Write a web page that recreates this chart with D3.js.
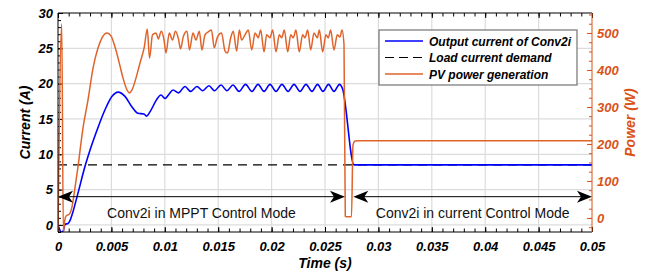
<!DOCTYPE html>
<html>
<head>
<meta charset="utf-8">
<script src="https://cdn.jsdelivr.net/npm/d3@7"></script>
<style>
  body { margin: 0; background: #fff; }
  text { font-family: "Liberation Sans", Arial, sans-serif; }
</style>
</head>
<body>
<div id="chart"></div>
<script>
// tick labels
const timeTicks = [0, 0.005, 0.01, 0.015, 0.02, 0.025, 0.03, 0.035, 0.04, 0.045, 0.05];
const currentTicks = [0, 5, 10, 15, 20, 25, 30];
const powerTicks = [0, 100, 200, 300, 400, 500];

// output current of Conv2i (A), time in ms
const currentTimeMs = [0, 0.14, 0.28, 0.47, 0.66, 0.94, 1.12, 1.31, 1.87, 2.53,
  3.00, 3.65, 4.40, 5.06, 5.62, 6.27, 6.93, 7.49, 8.05, 8.29,
  8.61, 9.22, 9.64, 10.02, 10.39, 10.77, 11.28, 11.89, 12.41, 13.01,
  13.53, 14.14, 14.65, 15.26, 15.82, 16.39, 16.95, 17.56, 18.16, 18.73,
  19.29, 19.85, 20.41, 20.97, 21.54, 22.10, 22.66, 23.22, 23.78, 24.30,
  24.81, 25.33, 25.84, 26.36, 26.64, 27.72, 50];
const currentValues = [0, -0.6, -1.0, -0.9, 0.1, 0.2, 0.6, 1.4, 4.5, 8.3,
  10.6, 13.4, 16.3, 18.2, 18.8, 18.2, 16.7, 15.8, 15.7, 15.4,
  16.0, 17.7, 18.4, 17.9, 18.5, 19.1, 18.7, 19.6, 18.9, 19.6,
  19.0, 19.7, 19.0, 19.8, 19.0, 19.8, 18.9, 19.9, 18.9, 19.9,
  18.9, 19.9, 18.9, 19.9, 18.9, 19.9, 18.9, 19.9, 18.9, 19.9,
  18.9, 19.9, 18.9, 19.9, 19.3, 8.5, 8.5];

// load current demand (A)
const loadDemand = 8.5;

// PV power generation (W), time in ms
const powerTimeMs = [0, 0.35, 0.50, 0.61, 0.75, 1.08, 1.31, 1.59, 1.87, 2.34,
  2.81, 3.28, 3.75, 4.12, 4.59, 4.96, 5.34, 5.71, 6.09, 6.46,
  6.69, 6.93, 7.30, 7.68, 8.08, 8.36, 8.57, 8.85, 9.18, 9.39,
  9.67, 9.93, 10.11, 10.42, 10.72, 11.00, 11.28, 11.47, 11.75, 12.08,
  12.31, 12.64, 12.92, 13.23, 13.48, 13.76, 14.07, 14.37, 14.63, 14.93,
  15.31, 15.64, 15.87, 16.17, 16.41, 16.73, 16.98, 17.20, 17.51, 17.82,
  18.14, 18.45, 18.75, 18.98, 19.29, 19.54, 19.85, 20.10, 20.41, 20.72,
  20.95, 21.19, 21.51, 21.79, 22.03, 22.28, 22.59, 22.91, 23.13, 23.38,
  23.66, 23.97, 24.28, 24.47, 24.78, 25.09, 25.31, 25.53, 25.84, 26.15,
  26.40, 26.59, 26.78, 26.90, 27.06, 27.48, 27.62, 27.81, 28.09, 50];
const powerValues = [-40, 524, -40, -11, 5, 11, 30, 81, 138, 243,
  319, 405, 460, 487, 500, 492, 462, 422, 378, 346,
  338, 346, 378, 419, 462, 511, 432, 495, 500, 484,
  505, 481, 446, 500, 481, 505, 484, 457, 492, 505,
  454, 500, 481, 505, 454, 495, 503, 508, 460, 489,
  500, 451, 446, 487, 505, 451, 508, 481, 495, 508,
  454, 500, 487, 508, 449, 495, 487, 508, 449, 495,
  487, 508, 449, 495, 487, 508, 449, 495, 487, 508,
  454, 500, 487, 508, 449, 495, 487, 508, 454, 495,
  489, 508, 468, 5, 3, 3, 197, 208, 209, 209];

// control mode annotations
const modeLabels = ["Conv2i in MPPT Control Mode", "Conv2i in current Control Mode"];
const modeStart = [0, 0.02765];
const modeEnd = [0.02687, 0.05];
const modeLevel = 4;

const legendLabels = ["Output current of Conv2i", "Load current demand", "PV power generation"];

const width = 650, height = 274;
const margin = { top: 13, left: 58, bottom: 42, right: 58 };
const iwidth = width - margin.left - margin.right;
const iheight = height - margin.top - margin.bottom;

const blue = "#0000ff";
const orange = "#e0632a";
const orangeText = "#d95319";
const grid = "#dcdcdc";

const svg = d3.select("#chart").append("svg")
  .attr("width", width).attr("height", height)
  .style("display", "block").style("background", "#fff");

const g = svg.append("g").attr("transform", `translate(${margin.left},${margin.top})`);

const x = d3.scaleLinear().domain([0, 0.05]).range([0, iwidth]);
const yL = d3.scaleLinear().domain([-1, 30]).range([iheight, 0]);
const yR = d3.scaleLinear().domain([-38, 554]).range([iheight, 0]);

svg.append("defs").append("clipPath").attr("id", "clip")
  .append("rect").attr("width", iwidth).attr("height", iheight);

// grid
g.append("g").selectAll("line").data(timeTicks.slice(1, -1)).join("line")
  .attr("x1", d => x(d)).attr("x2", d => x(d))
  .attr("y1", 0).attr("y2", iheight)
  .attr("stroke", grid).attr("stroke-width", 1.2);
g.append("g").selectAll("line").data(currentTicks.slice(0, -1)).join("line")
  .attr("x1", 0).attr("x2", iwidth)
  .attr("y1", d => yL(d)).attr("y2", d => yL(d))
  .attr("stroke", grid).attr("stroke-width", 1.2);

const tickFont = sel => sel
  .attr("font-family", '"Liberation Sans", Arial, sans-serif')
  .attr("font-size", 13).attr("font-weight", "bold").attr("font-style", "italic");

// minor ticks
const minor = (axis, tr) => {
  const a = g.append("g").attr("transform", tr).call(axis.tickFormat("").tickSizeOuter(0));
  a.select(".domain").remove();
  return a;
};
minor(d3.axisBottom(x).tickValues(d3.range(0, 0.0505, 0.001)).tickSize(-3.5), `translate(0,${iheight})`);
minor(d3.axisTop(x).tickValues(d3.range(0, 0.0505, 0.001)).tickSize(-3.5), "translate(0,0)");
minor(d3.axisLeft(yL).tickValues(d3.range(-1, 31, 1)).tickSize(-3), "translate(0,0)");
minor(d3.axisRight(yR).tickValues(d3.range(-25, 551, 25)).tickSize(-3), `translate(${iwidth},0)`)
  .selectAll("line").attr("stroke", orangeText);

// major axes
const xAxis = g.append("g").attr("transform", `translate(0,${iheight})`)
  .call(d3.axisBottom(x).tickValues(timeTicks).tickSize(-5).tickPadding(10).tickSizeOuter(0)
    .tickFormat(d => d === 0 ? "0" : d3.format("")(+d.toFixed(3))))
  .call(tickFont);
xAxis.select(".domain").remove();
minor(d3.axisTop(x).tickValues(timeTicks).tickSize(-5), "translate(0,0)");

const yAxisL = g.append("g")
  .call(d3.axisLeft(yL).tickValues(currentTicks).tickSize(-5).tickPadding(5).tickSizeOuter(0))
  .call(tickFont);
yAxisL.select(".domain").remove();

const yAxisR = g.append("g").attr("transform", `translate(${iwidth},0)`)
  .call(d3.axisRight(yR).tickValues(powerTicks).tickSize(-5).tickPadding(5).tickSizeOuter(0))
  .call(tickFont);
yAxisR.select(".domain").remove();
yAxisR.selectAll("line").attr("stroke", orangeText);
yAxisR.selectAll("text").attr("fill", orangeText);

// series
const plot = g.append("g").attr("clip-path", "url(#clip)");

plot.append("line")
  .attr("x1", x(0)).attr("x2", x(0.05))
  .attr("y1", yL(loadDemand)).attr("y2", yL(loadDemand))
  .attr("stroke", "#000").attr("stroke-width", 1.2).attr("stroke-dasharray", "9,6");

const currentLine = d3.line()
  .x((d, i) => x(currentTimeMs[i] / 1000)).y(d => yL(d))
  .curve(d3.curveMonotoneX);
plot.append("path").datum(currentValues)
  .attr("d", currentLine).attr("fill", "none")
  .attr("stroke", blue).attr("stroke-width", 1.6);

const powerLine = d3.line()
  .x((d, i) => x(powerTimeMs[i] / 1000)).y(d => yR(d))
  .curve(d3.curveMonotoneX);
plot.append("path").datum(powerValues)
  .attr("d", powerLine).attr("fill", "none")
  .attr("stroke", orange).attr("stroke-width", 1.5);

// frame
g.append("line").attr("x1", 0).attr("x2", iwidth).attr("y1", 0).attr("y2", 0).attr("stroke", "#000");
g.append("line").attr("x1", 0).attr("x2", iwidth).attr("y1", iheight).attr("y2", iheight).attr("stroke", "#000");
g.append("line").attr("x1", 0).attr("x2", 0).attr("y1", 0).attr("y2", iheight).attr("stroke", "#000");
g.append("line").attr("x1", iwidth).attr("x2", iwidth).attr("y1", 0).attr("y2", iheight).attr("stroke", orangeText);

// mode arrows
const head = (tip, yy, dir) =>
  `M${tip},${yy}L${tip - dir * 15},${yy - 6}L${tip - dir * 11},${yy}L${tip - dir * 15},${yy + 6}Z`;
modeLabels.forEach((label, i) => {
  const x0 = x(modeStart[i]), x1 = x(modeEnd[i]), yy = yL(modeLevel);
  g.append("line").attr("x1", x0 + 10).attr("x2", x1 - 10)
    .attr("y1", yy).attr("y2", yy).attr("stroke", "#000").attr("stroke-width", 1);
  g.append("path").attr("d", head(x0, yy, -1)).attr("fill", "#000");
  g.append("path").attr("d", head(x1, yy, 1)).attr("fill", "#000");
  g.append("text").attr("x", (x0 + x1) / 2).attr("y", yy + 21)
    .attr("text-anchor", "middle").attr("font-size", 14).attr("fill", "#111")
    .text(label);
});

// legend
const lg = g.append("g").attr("transform", `translate(${379 - margin.left},${30 - margin.top})`);
lg.append("rect").attr("width", 198).attr("height", 55)
  .attr("fill", "#fff").attr("stroke", "#7f7f7f").attr("stroke-width", 1.3);
const legendStyles = [
  { stroke: blue, dash: null, w: 1.6 },
  { stroke: "#000", dash: "9,5", w: 1.2 },
  { stroke: orange, dash: null, w: 1.5 }
];
legendLabels.forEach((label, i) => {
  const yy = 11 + i * 16.5;
  lg.append("line").attr("x1", 6).attr("x2", 44).attr("y1", yy).attr("y2", yy)
    .attr("stroke", legendStyles[i].stroke).attr("stroke-width", legendStyles[i].w)
    .attr("stroke-dasharray", legendStyles[i].dash);
  lg.append("text").attr("x", 50).attr("y", yy + 4.5)
    .attr("font-size", 12).attr("font-weight", "bold").attr("font-style", "italic")
    .text(label);
});

// axis titles
svg.append("text").attr("x", margin.left + iwidth / 2).attr("y", 268)
  .attr("text-anchor", "middle").attr("font-size", 14).attr("font-weight", "bold")
  .attr("font-style", "italic").text("Time (s)");
svg.append("text").attr("transform", `translate(30,${margin.top + iheight / 2}) rotate(-90)`)
  .attr("text-anchor", "middle").attr("font-size", 14).attr("font-weight", "bold")
  .attr("font-style", "italic").text("Current (A)");
svg.append("text").attr("transform", `translate(635,${margin.top + iheight / 2}) rotate(-90)`)
  .attr("text-anchor", "middle").attr("font-size", 14).attr("font-weight", "bold")
  .attr("font-style", "italic").attr("fill", orangeText).text("Power (W)");
</script>
</body>
</html>
